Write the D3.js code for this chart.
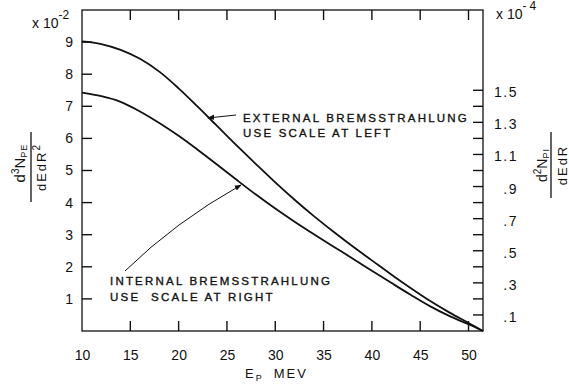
<!DOCTYPE html>
<html>
<head>
<meta charset="utf-8">
<script src="https://cdn.jsdelivr.net/npm/d3@7"></script>
<style>
  html, body { margin: 0; padding: 0; background: #fff; }
</style>
</head>
<body>
<svg id="chart" width="569" height="384" style="display:block;font-family:'Liberation Sans', Arial, sans-serif"></svg>
<script>
// ---- Data ----
const energy = [10, 12, 14, 16, 18, 20, 22, 24, 26, 28, 30, 32, 34, 36, 38, 40, 42, 44, 46, 48, 50, 51.5];
// External bremsstrahlung, left scale (x 10^-2)
const externalBrems = [9.02, 8.94, 8.76, 8.48, 8.08, 7.56, 6.98, 6.38, 5.78, 5.20, 4.63, 4.09, 3.58, 3.10, 2.64, 2.20, 1.76, 1.34, 0.94, 0.58, 0.25, 0.0];
// Internal bremsstrahlung, right scale (x 10^-4)
const internalBrems = [1.485, 1.463, 1.428, 1.368, 1.296, 1.216, 1.128, 1.036, 0.942, 0.850, 0.763, 0.681, 0.603, 0.527, 0.452, 0.375, 0.300, 0.226, 0.155, 0.094, 0.042, 0.0];

const xTicks = [10, 15, 20, 25, 30, 35, 40, 45, 50];
const leftTicks = [1, 2, 3, 4, 5, 6, 7, 8, 9];
const rightTicks = [0.1, 0.2, 0.3, 0.4, 0.5, 0.6, 0.7, 0.8, 0.9, 1.0, 1.1, 1.2, 1.3, 1.4, 1.5];
const rightTickLabels = [".1", ".3", ".5", ".7", ".9", "1.1", "1.3", "1.5"];
const rightLabelValues = [0.1, 0.3, 0.5, 0.7, 0.9, 1.1, 1.3, 1.5];

// ---- Layout ----
const L = 82, R = 483, T = 10, B = 331, TK = 10;
const svg = d3.select("#chart");
const ink = "#111";

const x = d3.scaleLinear().domain([10, 51.5]).range([L, R]);
const yL = d3.scaleLinear().domain([0, 10]).range([B, T]);
const yR = d3.scaleLinear().domain([0, 2]).range([B, T]);

// frame
svg.append("rect").attr("x", L).attr("y", T).attr("width", R - L).attr("height", B - T)
  .attr("fill", "none").attr("stroke", ink).attr("stroke-width", 1.3);

// inward tick marks (bottom, top, left, right)
svg.selectAll("line.tb").data(xTicks.slice(1)).join("line").attr("class", "tb")
  .attr("x1", d => x(d)).attr("x2", d => x(d)).attr("y1", B).attr("y2", B - TK)
  .attr("stroke", ink).attr("stroke-width", 1.4);
svg.selectAll("line.tt").data(xTicks.slice(1)).join("line").attr("class", "tt")
  .attr("x1", d => x(d)).attr("x2", d => x(d)).attr("y1", T).attr("y2", T + TK)
  .attr("stroke", ink).attr("stroke-width", 1.4);
svg.selectAll("line.tl").data(leftTicks).join("line").attr("class", "tl")
  .attr("x1", L).attr("x2", L + TK).attr("y1", d => yL(d)).attr("y2", d => yL(d))
  .attr("stroke", ink).attr("stroke-width", 1.4);
svg.selectAll("line.tr").data(rightTicks).join("line").attr("class", "tr")
  .attr("x1", R - TK).attr("x2", R).attr("y1", d => yR(d)).attr("y2", d => yR(d))
  .attr("stroke", ink).attr("stroke-width", 1.4);

function styleAxis(g) {
  g.select(".domain").remove();
  g.selectAll(".tick line").remove();
  g.selectAll(".tick text").attr("fill", ink).attr("font-size", 14);
}

// tick labels through d3 axes
svg.append("g").attr("transform", `translate(0,${B})`)
  .call(d3.axisBottom(x).tickValues(xTicks).tickSize(0).tickPadding(19).tickFormat(d3.format("d")))
  .call(styleAxis);
svg.append("g").attr("transform", `translate(${L},0)`)
  .call(d3.axisLeft(yL).tickValues(leftTicks).tickSize(0).tickPadding(9).tickFormat(d3.format("d")))
  .call(styleAxis);

// right axis labels
svg.append("g").selectAll("text").data(rightLabelValues).join("text")
  .attr("x", 518).attr("y", d => yR(d) + 7)
  .attr("text-anchor", "end").attr("font-size", 14).attr("fill", ink)
  .attr("letter-spacing", 1.5)
  .text((d, i) => rightTickLabels[i]);

// curves
const lineL = d3.line().x((d, i) => x(energy[i])).y(d => yL(d)).curve(d3.curveCatmullRom.alpha(0.5));
const lineR = d3.line().x((d, i) => x(energy[i])).y(d => yR(d)).curve(d3.curveCatmullRom.alpha(0.5));
svg.append("path").attr("d", lineL(externalBrems)).attr("fill", "none").attr("stroke", ink).attr("stroke-width", 1.8);
svg.append("path").attr("d", lineR(internalBrems)).attr("fill", "none").attr("stroke", ink).attr("stroke-width", 1.8);

// arrow marker
svg.append("defs").append("marker").attr("id", "arr")
  .attr("viewBox", "0 0 10 10").attr("refX", 9).attr("refY", 5)
  .attr("markerWidth", 7).attr("markerHeight", 7).attr("markerUnits", "userSpaceOnUse")
  .attr("orient", "auto")
  .append("path").attr("d", "M0,1 L10,5 L0,9 Z").attr("fill", ink);

// annotations
const ann = svg.append("g").attr("font-size", 11.5).attr("fill", ink).attr("letter-spacing", 2.2)
  .attr("stroke", ink).attr("stroke-width", 0.35);
ann.append("text").attr("x", 243).attr("y", 122).text("EXTERNAL BREMSSTRAHLUNG");
ann.append("text").attr("x", 243).attr("y", 137).text("USE SCALE AT LEFT");
ann.append("text").attr("x", 110).attr("y", 285).text("INTERNAL BREMSSTRAHLUNG");
ann.append("text").attr("x", 110).attr("y", 301).attr("xml:space", "preserve").text("USE  SCALE AT RIGHT");

svg.append("path").attr("d", "M236,115 L208,118").attr("fill", "none").attr("stroke", ink).attr("stroke-width", 1)
  .attr("marker-end", "url(#arr)");
svg.append("path").attr("d", "M125,271 Q175,222 241,185").attr("fill", "none").attr("stroke", ink).attr("stroke-width", 1)
  .attr("marker-end", "url(#arr)");

// scale factors
const sf = svg.append("g").attr("fill", ink);
const s1 = sf.append("text").attr("x", 32).attr("y", 28).attr("font-size", 14);
s1.append("tspan").text("x 10");
s1.append("tspan").attr("dy", -9).attr("font-size", 12).text("-2");
const s2 = sf.append("text").attr("x", 496).attr("y", 19).attr("font-size", 14);
s2.append("tspan").text("x 10");
s2.append("tspan").attr("dy", -9).attr("font-size", 12).attr("letter-spacing", 3).text("-4");

// x axis title
const xt = svg.append("text").attr("x", 245).attr("y", 378).attr("font-size", 13).attr("fill", ink).attr("letter-spacing", 2);
xt.append("tspan").text("E");
xt.append("tspan").attr("dy", 3).attr("font-size", 9).text("P");
xt.append("tspan").attr("dy", -3).attr("dx", 10).text("MEV");

// left y title (rotated fraction)
const gl = svg.append("g").attr("transform", "translate(31,167) rotate(-90)").attr("fill", ink);
const ln = gl.append("text").attr("x", 4).attr("y", -6).attr("text-anchor", "middle").attr("font-size", 15);
ln.append("tspan").text("d");
ln.append("tspan").attr("dy", -6).attr("font-size", 10).text("3");
ln.append("tspan").attr("dy", 6).text("N");
ln.append("tspan").attr("dy", 2).attr("font-size", 9).attr("letter-spacing", 1).text("PE");
const ld = gl.append("text").attr("x", 0).attr("y", 15).attr("text-anchor", "middle").attr("font-size", 13).attr("letter-spacing", 2);
ld.append("tspan").text("dEdR");
ld.append("tspan").attr("dy", -6).attr("font-size", 10).text("2");
gl.append("line").attr("x1", -35).attr("x2", 35).attr("y1", 0).attr("y2", 0).attr("stroke", ink).attr("stroke-width", 1.3);

// right y title (rotated fraction)
const gr = svg.append("g").attr("transform", "translate(551,165) rotate(-90)").attr("fill", ink);
const rn = gr.append("text").attr("x", 0).attr("y", -4).attr("text-anchor", "middle").attr("font-size", 14);
rn.append("tspan").text("d");
rn.append("tspan").attr("dy", -6).attr("font-size", 10).text("2");
rn.append("tspan").attr("dy", 6).text("N");
rn.append("tspan").attr("dy", 2).attr("font-size", 9).attr("letter-spacing", 1).text("PI");
const rd = gr.append("text").attr("x", 0).attr("y", 16).attr("text-anchor", "middle").attr("font-size", 13).attr("letter-spacing", 2);
rd.append("tspan").text("dEdR");
gr.append("line").attr("x1", -33).attr("x2", 33).attr("y1", 0).attr("y2", 0).attr("stroke", ink).attr("stroke-width", 1.3);
</script>
</body>
</html>
